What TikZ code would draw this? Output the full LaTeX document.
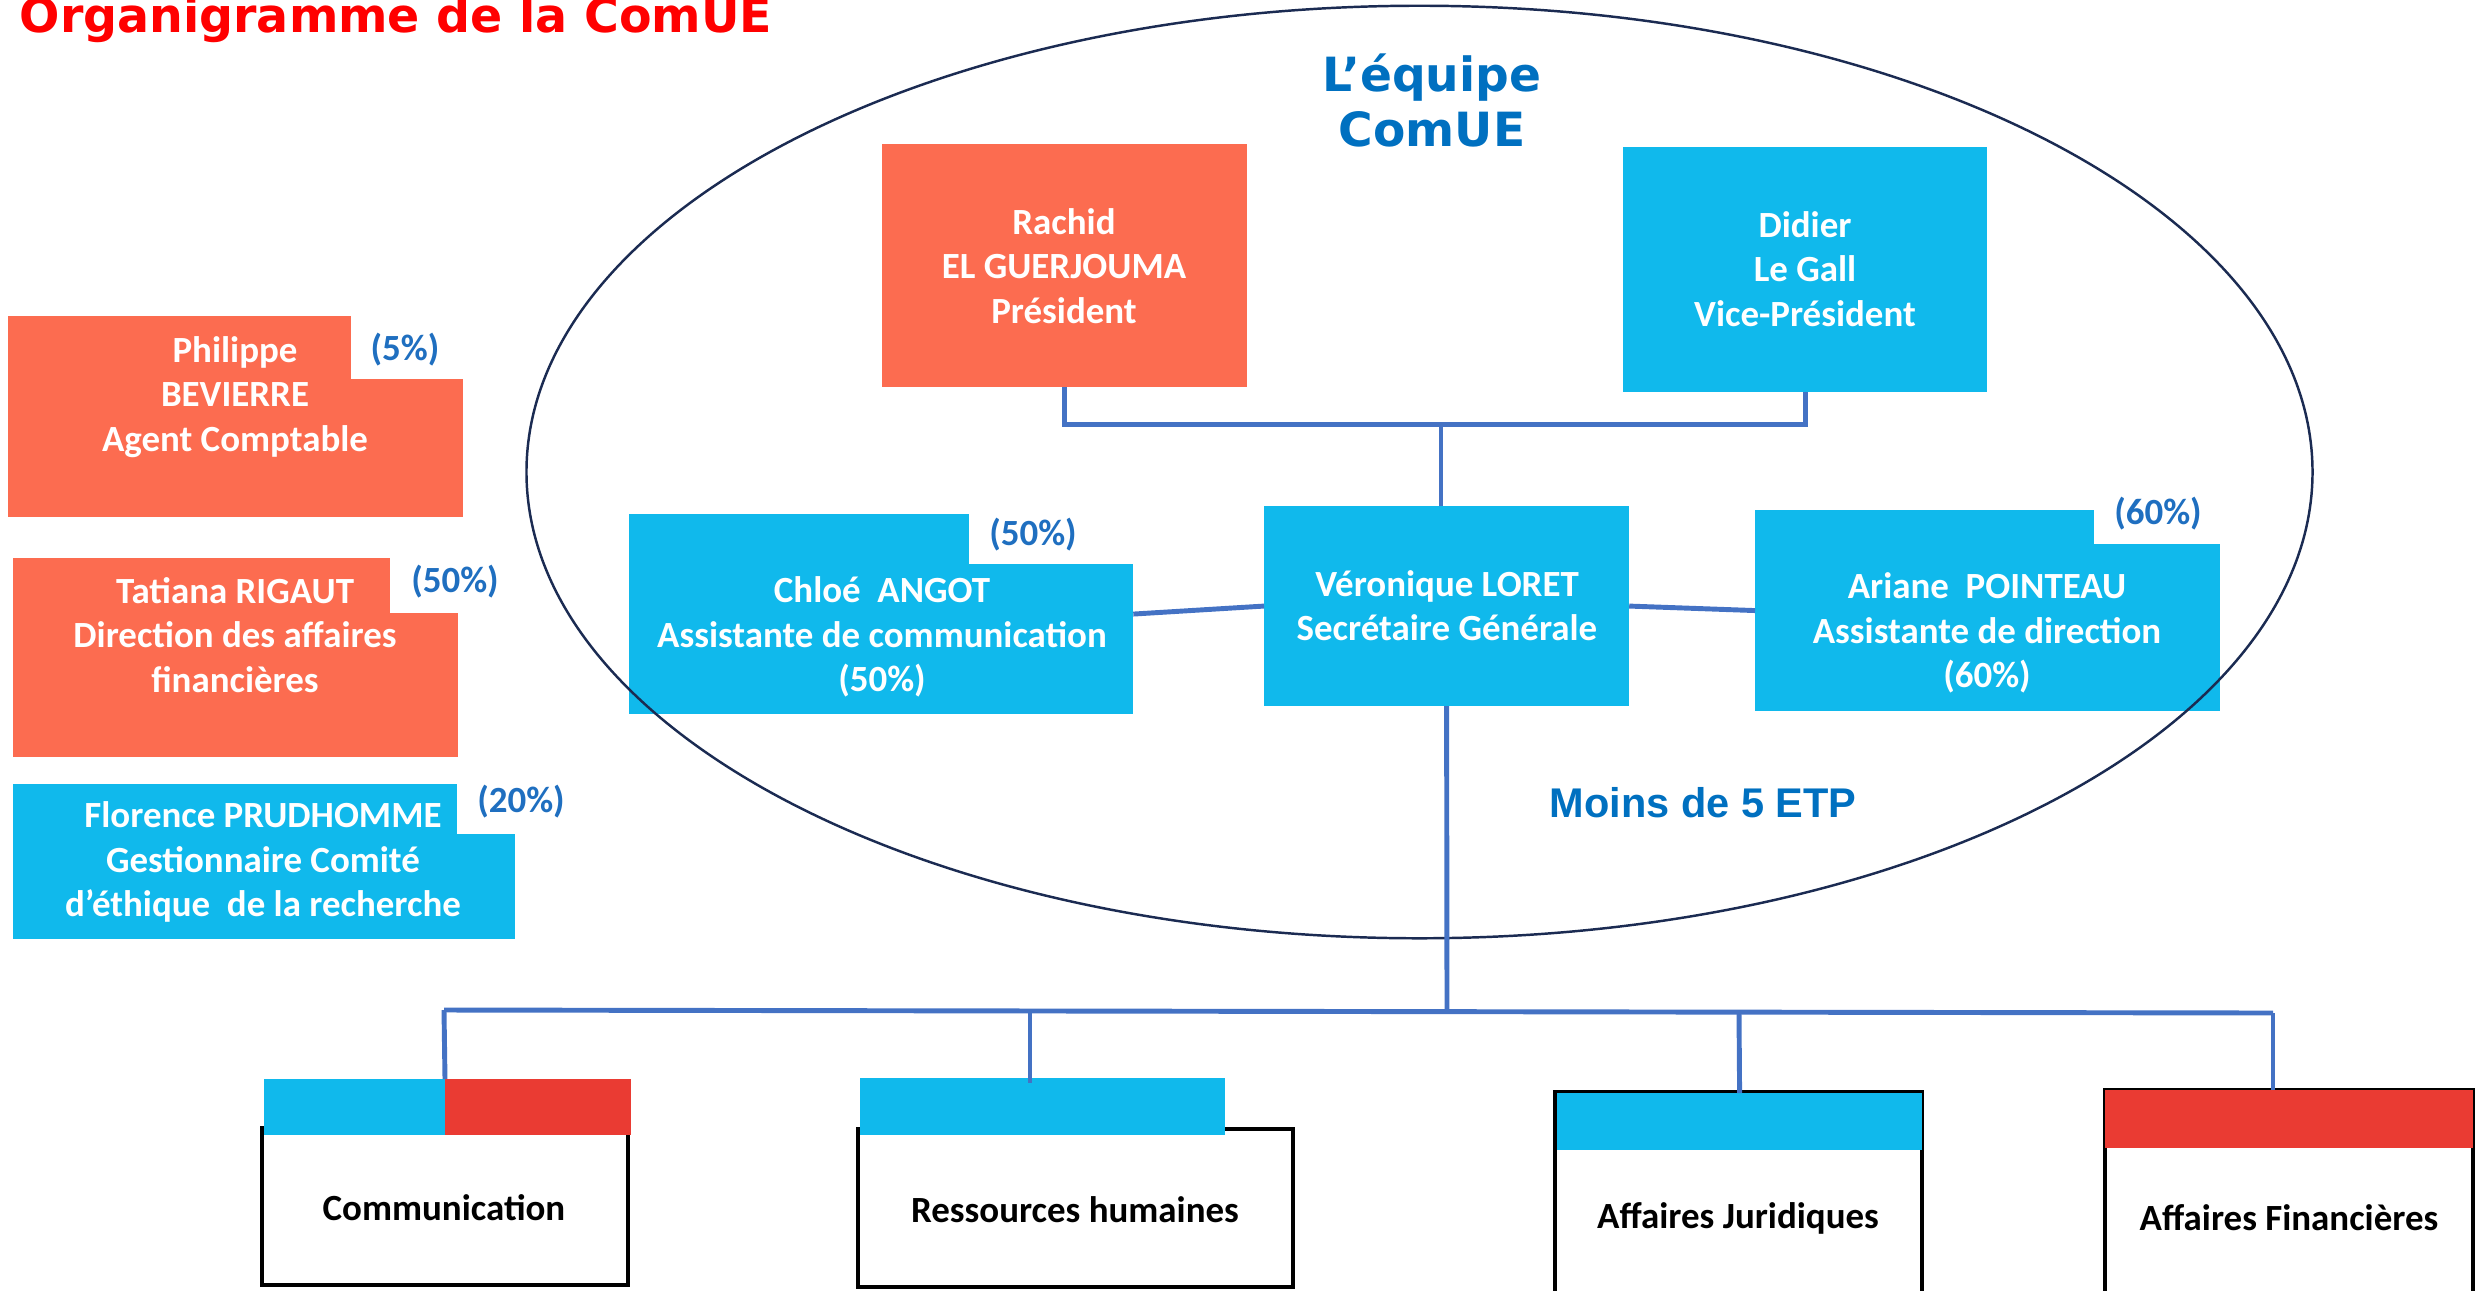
\documentclass[tikz,border=0pt]{standalone}
\usepackage{fontspec}
\newfontfamily\boxfnt{Carlito}
\newfontfamily\verafnt{DejaVu Sans}
\newfontfamily\arialfnt{Liberation Sans}
\usetikzlibrary{shapes.geometric,calc}
\definecolor{coral}{HTML}{FC6C50}
\definecolor{cyanbox}{HTML}{10B9EC}
\definecolor{redbar}{HTML}{EA3B33}
\definecolor{connblue}{HTML}{4472C4}
\definecolor{pctblue}{HTML}{1F6FC0}
\definecolor{teamblue}{HTML}{0070C0}
\definecolor{navy}{HTML}{1B2B52}
\begin{document}
\begin{tikzpicture}[x=0.01cm,y=-0.01cm,
  box/.style={anchor=north west,inner sep=0pt,outer sep=0pt,draw=none},
  notch/.style={box,fill=white},
  unitbox/.style={box,draw=black,line width=1.2pt,fill=white},
  boxtext/.style={font={\boxfnt\bfseries\fontsize{10.5}{12.6}\selectfont},text=white,align=center,inner sep=0pt},
  unittext/.style={boxtext,text=black},
  pct/.style={font={\boxfnt\bfseries\fontsize{10.5}{12.6}\selectfont},text=pctblue,inner sep=0pt},
  connector/.style={draw=connblue,line width=1.4pt}]
\clip (0,0) rectangle (2478,1290);
\useasboundingbox (0,0) rectangle (2478,1290);

% title
\node[anchor=base west,inner sep=0pt,text=red,font={\verafnt\bfseries\fontsize{13.5}{16}\selectfont}] (title) at (19,32) {Organigramme de la ComUE};

% left boxes
\node[box,fill=coral,minimum width=4.55cm,minimum height=2.01cm] (philippe) at (8,316) {};
\node[notch,minimum width=1.12cm,minimum height=0.63cm] (philippeN) at (351,316) {};
\node[box,fill=coral,minimum width=4.45cm,minimum height=1.99cm] (tatiana) at (13,558) {};
\node[notch,minimum width=0.68cm,minimum height=0.55cm] (tatianaN) at (390,558) {};
\node[box,fill=cyanbox,minimum width=5.02cm,minimum height=1.55cm] (florence) at (13,784) {};
\node[notch,minimum width=0.58cm,minimum height=0.50cm] (florenceN) at (457,784) {};

% team boxes
\node[box,fill=coral,minimum width=3.65cm,minimum height=2.43cm] (rachid) at (882,144) {};
\node[box,fill=cyanbox,minimum width=3.64cm,minimum height=2.45cm] (didier) at (1623,147) {};
\node[box,fill=cyanbox,minimum width=3.65cm,minimum height=2.00cm] (vero) at (1264,506) {};
\node[box,fill=cyanbox,minimum width=5.04cm,minimum height=2.00cm] (chloe) at (629,514) {};
\node[notch,minimum width=1.64cm,minimum height=0.50cm] (chloeN) at (969,514) {};
\node[box,fill=cyanbox,minimum width=4.65cm,minimum height=2.01cm] (ariane) at (1755,510) {};
\node[notch,minimum width=1.26cm,minimum height=0.34cm] (arianeN) at (2094,510) {};

% unit boxes
\node[unitbox,minimum width=3.66cm,minimum height=1.57cm] (com) at (262,1128) {};
\node[box,fill=cyanbox,minimum width=1.81cm,minimum height=0.56cm] (comA) at (264,1079) {};
\node[box,fill=redbar,minimum width=1.86cm,minimum height=0.56cm] (comB) at (445,1079) {};
\node[unitbox,minimum width=4.35cm,minimum height=1.58cm] (rh) at (858,1129) {};
\node[box,fill=cyanbox,minimum width=3.65cm,minimum height=0.57cm] (rhBar) at (860,1078) {};
\node[unitbox,minimum width=3.67cm,minimum height=2.50cm] (aj) at (1555,1092) {};
\node[box,fill=cyanbox,minimum width=3.65cm,minimum height=0.57cm] (ajBar) at (1557,1093) {};
\node[unitbox,minimum width=3.68cm,minimum height=2.50cm] (af) at (2105,1090) {};
\node[box,fill=redbar,minimum width=3.68cm,minimum height=0.58cm] (afBar) at (2105,1090) {};

% ellipse
\node[draw=navy,line width=0.7pt,ellipse,inner sep=0pt,minimum width=17.85cm,minimum height=9.32cm] (team) at (1419.5,472) {};

% connectors
\coordinate (topbar) at (1441,424);
\draw[connector] (rachid.south) -- ++(0,37) -| (didier.south);
\draw[connector] (topbar) -- (topbar |- vero.north);
\draw[connector] (chloe.east) -- (vero.west);
\draw[connector] (vero.east) -- (ariane.west);
\coordinate (hL) at (444,1010);
\coordinate (hM) at (1447,1011);
\coordinate (hRH) at (1030,1011);
\coordinate (hAJ) at (1739,1012);
\coordinate (hR) at (2273,1013);
\draw[connector] (vero.south) -- (hM);
\draw[connector] (hL) -- (hR);
\draw[connector] (hL) -- (comB.north west);
\draw[connector] (hRH) -- ++(0,72);
\draw[connector] (hAJ) -- (ajBar.north);
\draw[connector] (hR) -- (hR |- afBar.north);

% texts
\node[anchor=base,inner sep=0pt,text=teamblue,font={\verafnt\bfseries\fontsize{13.4}{16}\selectfont}] (teamA) at (1432,91) {L’équipe};
\node[anchor=base,inner sep=0pt,text=teamblue,font={\verafnt\bfseries\fontsize{13.4}{16}\selectfont}] (teamB) at (1432,146) {ComUE};
\node[anchor=base,inner sep=0pt,text=teamblue,font={\arialfnt\bfseries\fontsize{11.8}{14}\selectfont}] (etp) at (1703,817) {Moins de 5 ETP};

\node[boxtext] (philippeT) at (235,397) {Philippe\\BEVIERRE\\Agent Comptable};
\node[pct] (philippeP) at (405,350) {(5\%)};
\node[boxtext] (tatianaT) at (235,635) {Tatiana RIGAUT\\Direction des affaires\\financières};
\node[pct] (tatianaP) at (455,582) {(50\%)};
\node[boxtext] (florenceT) at (263,862) {Florence PRUDHOMME\\Gestionnaire Comité\\d’éthique~~de la recherche};
\node[pct] (florenceP) at (521,802) {(20\%)};

\node[boxtext] (rachidT) at (1064,266) {Rachid\\EL GUERJOUMA\\Président};
\node[boxtext] (didierT) at (1805,269) {Didier\\Le Gall\\Vice-Président};
\node[boxtext] (veroT) at (1447,606) {Véronique LORET\\Secrétaire Générale};
\node[boxtext] (chloeT) at (882,637) {Chloé~~ANGOT\\Assistante de communication\\(50\%)};
\node[pct] (chloeP) at (1033,535) {(50\%)};
\node[boxtext] (arianeT) at (1987,633) {Ariane~~POINTEAU\\Assistante de direction\\(60\%)};
\node[pct] (arianeP) at (2158,514) {(60\%)};

\node[unittext] (comT) at (444,1208) {Communication};
\node[unittext] (rhT) at (1075,1210) {Ressources humaines};
\node[unittext] (ajT) at (1738,1218) {Affaires Juridiques};
\node[unittext] (afT) at (2289,1218) {Affaires Financières};
\end{tikzpicture}
\end{document}
